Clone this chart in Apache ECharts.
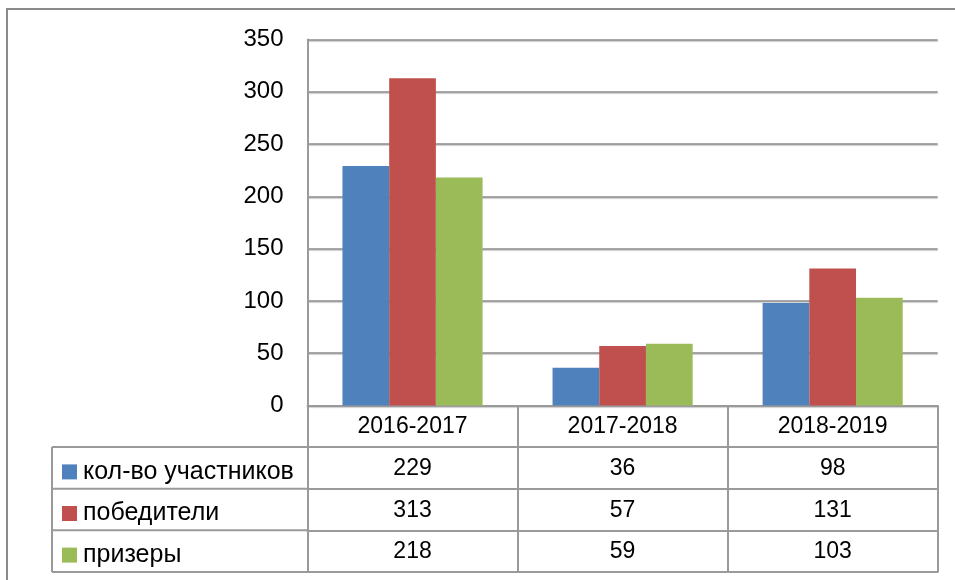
<!DOCTYPE html>
<html>
<head>
<meta charset="utf-8">
<script src="https://cdn.jsdelivr.net/npm/echarts@6/dist/echarts.min.js"></script>
<style>html,body{margin:0;padding:0;background:#fff;}#c{width:955px;height:580px;}</style>
</head>
<body>
<div id="c"></div>
<script>
// ---- data ----
const categories = ['2016-2017', '2017-2018', '2018-2019'];
const seriesNames = ['кол-во участников', 'победители', 'призеры'];
const participants = [229, 36, 98];
const winners = [313, 57, 131];
const prizewinners = [218, 59, 103];
const yTicks = [0, 50, 100, 150, 200, 250, 300, 350];

// ---- layout ----
const W = 955, H = 580;
const gridLeft = 307.5, gridRight = 937.7, gridTop = 39.5, gridBottom = 405.5;
const rowH = 41.6;
const legendColLeft = 52;
const colors = ['#4F81BD', '#C0504D', '#9BBB59'];
const lineCol = '#9a9a9a';
const font = 'Liberation Sans';
const fs = 23;

const seriesData = [participants, winners, prizewinners];

const xAxes = [];
// header row axis (categories)
xAxes.push({
  type: 'category', data: categories, position: 'bottom', offset: 0, gridIndex: 0,
  axisLine: { show: true, lineStyle: { color: lineCol, width: 2 } },
  axisTick: { show: true, length: rowH, inside: false, alignWithLabel: false, interval: 0, lineStyle: { color: lineCol, width: 2 } },
  axisLabel: { show: true, interval: 0, margin: rowH / 2, verticalAlign: 'middle', color: '#000', fontSize: fs, fontFamily: font },
  splitLine: { show: false }
});
// value rows
seriesData.forEach((arr, i) => {
  xAxes.push({
    type: 'category', data: arr.map(String), position: 'bottom', offset: rowH * (i + 1), gridIndex: 0,
    axisLine: { show: true, lineStyle: { color: lineCol, width: 2 } },
    axisTick: { show: true, length: rowH, inside: false, alignWithLabel: false, interval: 0, lineStyle: { color: lineCol, width: 2 } },
    axisLabel: { show: true, interval: 0, margin: rowH / 2 + 1, verticalAlign: 'middle', color: '#000', fontSize: fs, fontFamily: font },
    splitLine: { show: false }
  });
});
// bottom border of table
xAxes.push({
  type: 'category', data: categories, position: 'bottom', offset: rowH * 4, gridIndex: 0,
  axisLine: { show: true, lineStyle: { color: lineCol, width: 2 } },
  axisTick: { show: false }, axisLabel: { show: false }, splitLine: { show: false }
});

const graphics = [
  { type: 'rect', shape: { x: 7, y: 9, width: 1000, height: 1000 }, style: { fill: 'none', stroke: '#8a8a8a', lineWidth: 2 }, silent: true }
];
for (let k = 1; k <= 4; k++) {
  const y = gridBottom + rowH * k;
  graphics.push({ type: 'line', shape: { x1: legendColLeft, y1: y, x2: gridLeft, y2: y }, style: { stroke: lineCol, lineWidth: 2 }, silent: true });
}
graphics.push({ type: 'line', shape: { x1: legendColLeft, y1: gridBottom + rowH, x2: legendColLeft, y2: gridBottom + rowH * 4 }, style: { stroke: lineCol, lineWidth: 2 }, silent: true });

// one legend per table row
const legends = seriesNames.map((name, i) => ({
  orient: 'horizontal', left: 62, top: gridBottom + rowH * (i + 1) + rowH / 2 - 8.5, padding: 0,
  itemWidth: 15, itemHeight: 15, icon: 'rect', itemGap: 0,
  data: [name],
  textStyle: { color: '#000', fontSize: 25, fontFamily: font, lineHeight: 15, padding: [0, 0, 0, 1] }
}));

const option = {
  animation: false,
  backgroundColor: '#fff',
  color: colors,
  grid: { left: gridLeft, right: W - gridRight, top: gridTop, bottom: H - gridBottom, containLabel: false },
  legend: legends,
  xAxis: xAxes,
  yAxis: {
    type: 'value', min: yTicks[0], max: yTicks[yTicks.length - 1], interval: yTicks[1] - yTicks[0],
    axisLine: { show: true, lineStyle: { color: lineCol, width: 2 } },
    axisTick: { show: false },
    axisLabel: { color: '#000', fontSize: 24, fontFamily: font, margin: 24 },
    splitLine: { show: true, lineStyle: { color: '#8c8c8c', width: 1.5, shadowColor: 'rgba(0,0,0,0.25)', shadowOffsetY: 1, shadowBlur: 1 } }
  },
  series: seriesNames.map((name, i) => ({
    name: name, type: 'bar', xAxisIndex: 0, data: seriesData[i],
    barGap: '0%', barCategoryGap: '33.3%',
    itemStyle: { color: colors[i] }
  })),
  graphic: graphics
};

const chart = echarts.init(document.getElementById('c'), null, { renderer: 'canvas' });
chart.setOption(option);
</script>
</body>
</html>
